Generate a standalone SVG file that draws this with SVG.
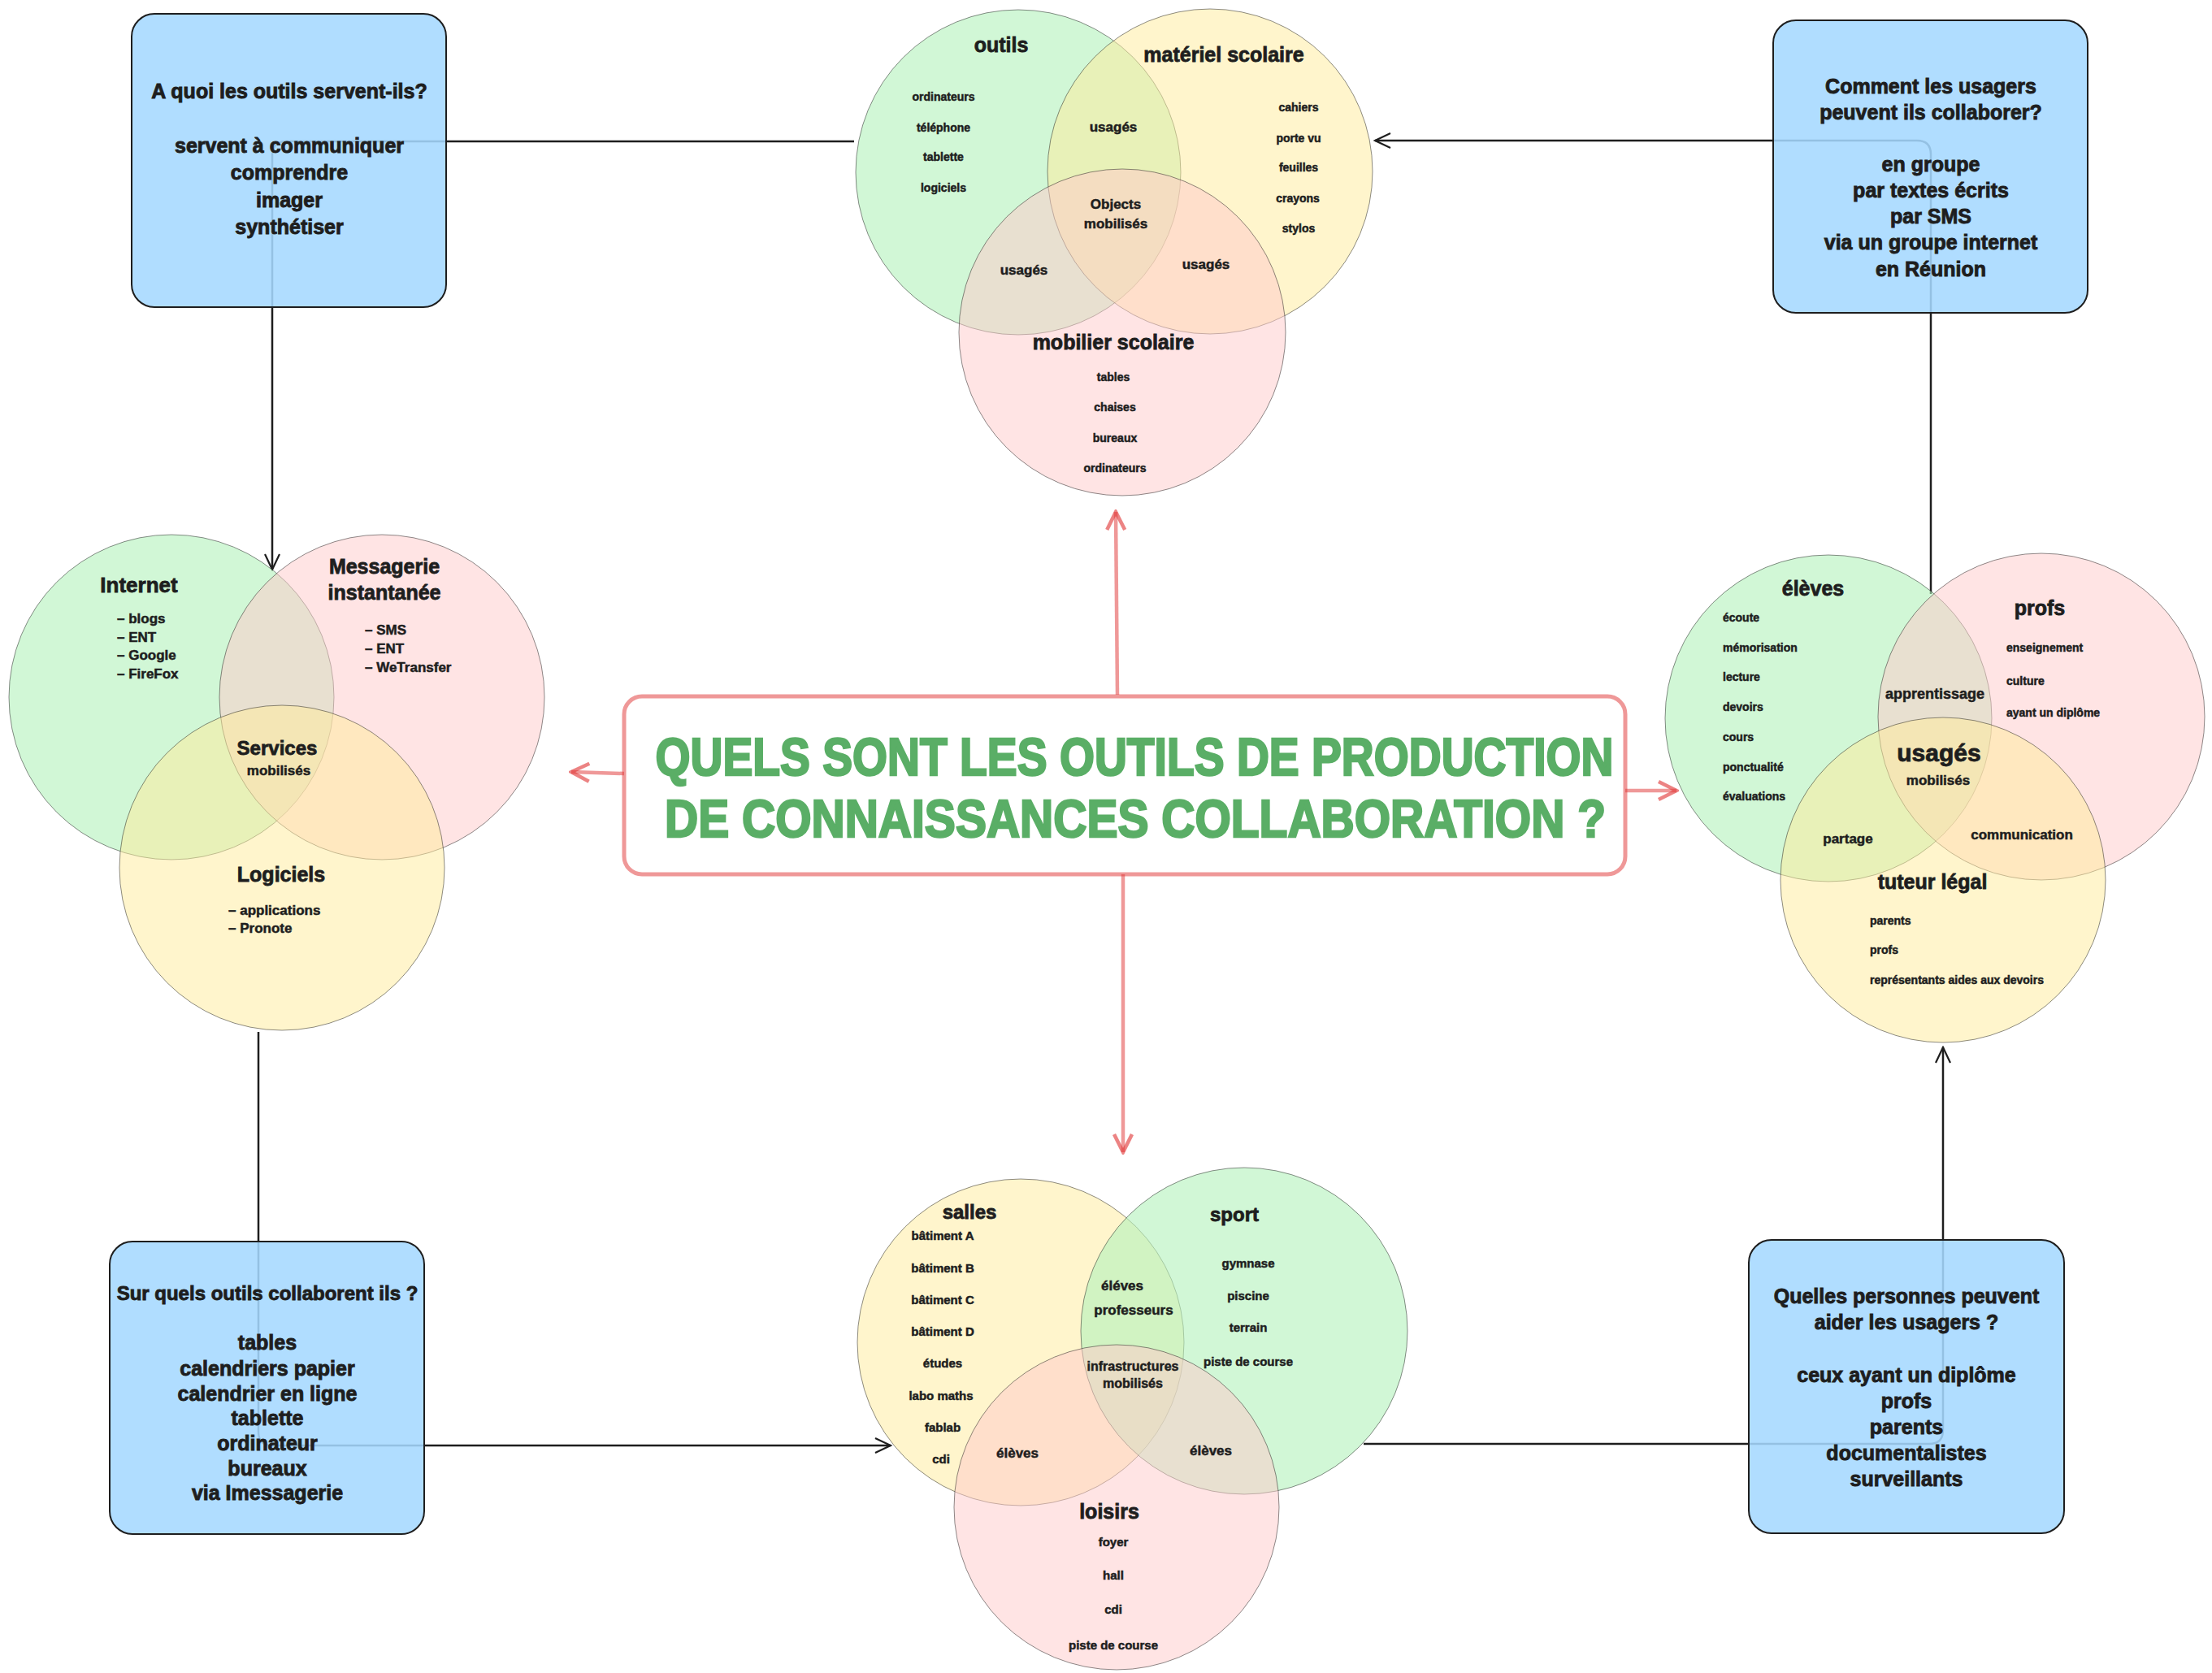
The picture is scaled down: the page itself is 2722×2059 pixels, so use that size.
<svg xmlns="http://www.w3.org/2000/svg" width="2722" height="2059" viewBox="0 0 2722 2059">
<style>
text{font-family:"Liberation Sans",Arial,sans-serif;font-weight:bold;fill:#1e1e1e;stroke:#1e1e1e;stroke-width:.5}
.c{text-anchor:middle}
.s{text-anchor:start}
.t{font-size:25px;stroke-width:.8}
.i{font-size:14px}
.j{font-size:15px}
.m{font-size:17px}
.bx{font-size:25px;text-anchor:middle;stroke-width:.9}
.g{fill:#b2f2bb;fill-opacity:.6;stroke:#1e1e1e;stroke-opacity:.5;stroke-width:1}
.y{fill:#ffec99;fill-opacity:.5;stroke:#1e1e1e;stroke-opacity:.5;stroke-width:1}
.p{fill:#ffc9c9;fill-opacity:.5;stroke:#1e1e1e;stroke-opacity:.5;stroke-width:1}
.box{fill:#a5d8ff;fill-opacity:.88;stroke:#1e1e1e;stroke-width:2}
.k{fill:none;stroke:#1e1e1e;stroke-width:2.5}
.r{fill:none;stroke:#e03131;stroke-opacity:.5;stroke-width:4.5}
.title{font-size:64px;fill:#5aae66;stroke:#5aae66;stroke-width:2.5;text-anchor:middle}
</style>
<defs>
<marker id="ak" viewBox="-22 -12 24 24" refX="0" refY="0" markerWidth="24" markerHeight="24" markerUnits="userSpaceOnUse" orient="auto">
<path d="M-19,-9 L0,0 L-19,9" fill="none" stroke="#1e1e1e" stroke-width="2.2"/>
</marker>
<marker id="ar" viewBox="-26 -15 29 30" refX="0" refY="0" markerWidth="29" markerHeight="30" markerUnits="userSpaceOnUse" orient="auto">
<path d="M-22,-11 L0,0 L-22,11" fill="none" stroke="#e03131" stroke-opacity=".6" stroke-width="4.5"/>
</marker>
</defs>

<g id="connectors">
<path class="k" d="M1051,174 L352,174 Q335,174 335,191 L335,701" marker-end="url(#ak)"/>
<path class="k" d="M2376,731 L2376,190 Q2376,173 2359,173 L1692,173" marker-end="url(#ak)"/>
<path class="k" d="M318,1270 L318,1762 Q318,1779 335,1779 L1096,1779" marker-end="url(#ak)"/>
<path class="k" d="M1678,1777 L2374,1777 Q2391,1777 2391,1760 L2391,1289" marker-end="url(#ak)"/>
<path class="r" d="M1375,855 L1373,630" marker-end="url(#ar)"/>
<path class="r" d="M1382,1076 L1382,1418" marker-end="url(#ar)"/>
<path class="r" d="M768,952 L703,950" marker-end="url(#ar)"/>
<path class="r" d="M2000,973 L2063,973" marker-end="url(#ar)"/>
</g>

<g id="venn-top">
<circle class="g" cx="1253" cy="212" r="200"/>
<circle class="y" cx="1489" cy="211" r="200"/>
<circle class="p" cx="1381" cy="409" r="201"/>
<text class="c t" x="1232" y="64">outils</text>
<text class="c t" x="1506" y="76">matériel scolaire</text>
<text class="c i" x="1161" y="124">ordinateurs</text>
<text class="c i" x="1161" y="162">téléphone</text>
<text class="c i" x="1161" y="198">tablette</text>
<text class="c i" x="1161" y="236">logiciels</text>
<text class="c m" x="1370" y="162">usagés</text>
<text class="c i" x="1598" y="137">cahiers</text>
<text class="c i" x="1598" y="175">porte vu</text>
<text class="c i" x="1598" y="211">feuilles</text>
<text class="c i" x="1597" y="249">crayons</text>
<text class="c i" x="1598" y="286">stylos</text>
<text class="c m" x="1373" y="257">Objects</text>
<text class="c m" x="1373" y="281">mobilisés</text>
<text class="c m" x="1260" y="338">usagés</text>
<text class="c m" x="1484" y="331">usagés</text>
<text class="c t" x="1370" y="430">mobilier scolaire</text>
<text class="c i" x="1370" y="469">tables</text>
<text class="c i" x="1372" y="506">chaises</text>
<text class="c i" x="1372" y="544">bureaux</text>
<text class="c i" x="1372" y="581">ordinateurs</text>
</g>

<g id="venn-left">
<circle class="g" cx="211" cy="858" r="200"/>
<circle class="p" cx="470" cy="858" r="200"/>
<circle class="y" cx="347" cy="1068" r="200"/>
<text class="c t" x="171" y="729" style="font-size:26px">Internet</text>
<text class="s m" x="144" y="767">– blogs</text>
<text class="s m" x="144" y="790">– ENT</text>
<text class="s m" x="144" y="812">– Google</text>
<text class="s m" x="144" y="835">– FireFox</text>
<text class="c t" x="473" y="706">Messagerie</text>
<text class="c t" x="473" y="738">instantanée</text>
<text class="s m" x="449" y="781">– SMS</text>
<text class="s m" x="449" y="804">– ENT</text>
<text class="s m" x="449" y="827">– WeTransfer</text>
<text class="c t" x="341" y="929" style="font-size:24px">Services</text>
<text class="c m" x="343" y="954">mobilisés</text>
<text class="c t" x="346" y="1085">Logiciels</text>
<text class="s m" x="281" y="1126">– applications</text>
<text class="s m" x="281" y="1148">– Pronote</text>
</g>

<g id="venn-right">
<circle class="g" cx="2250" cy="884" r="201"/>
<circle class="p" cx="2512" cy="882" r="201"/>
<circle class="y" cx="2391" cy="1083" r="200"/>
<text class="c t" x="2231" y="733">élèves</text>
<text class="s i" x="2120" y="765">écoute</text>
<text class="s i" x="2120" y="802">mémorisation</text>
<text class="s i" x="2120" y="838">lecture</text>
<text class="s i" x="2120" y="875">devoirs</text>
<text class="s i" x="2120" y="912">cours</text>
<text class="s i" x="2120" y="949">ponctualité</text>
<text class="s i" x="2120" y="985">évaluations</text>
<text class="c t" x="2510" y="757">profs</text>
<text class="s i" x="2469" y="802">enseignement</text>
<text class="s i" x="2469" y="843">culture</text>
<text class="s i" x="2469" y="882">ayant un diplôme</text>
<text class="c" x="2381" y="860" style="font-size:18px">apprentissage</text>
<text class="c t" x="2386" y="937" style="font-size:30px">usagés</text>
<text class="c m" x="2385" y="966">mobilisés</text>
<text class="c m" x="2274" y="1038">partage</text>
<text class="c m" x="2488" y="1033">communication</text>
<text class="c t" x="2378" y="1094">tuteur légal</text>
<text class="s i" x="2301" y="1138">parents</text>
<text class="s i" x="2301" y="1174">profs</text>
<text class="s i" x="2301" y="1211">représentants aides aux devoirs</text>
</g>

<g id="venn-bottom">
<circle class="y" cx="1256" cy="1652" r="201"/>
<circle class="g" cx="1531" cy="1638" r="201"/>
<circle class="p" cx="1374" cy="1855" r="200"/>
<text class="c t" x="1193" y="1500" style="font-size:24px">salles</text>
<text class="c j" x="1160" y="1526">bâtiment A</text>
<text class="c j" x="1160" y="1566">bâtiment B</text>
<text class="c j" x="1160" y="1605">bâtiment C</text>
<text class="c j" x="1160" y="1644">bâtiment D</text>
<text class="c j" x="1160" y="1683">études</text>
<text class="c j" x="1158" y="1723">labo maths</text>
<text class="c j" x="1160" y="1762">fablab</text>
<text class="c j" x="1158" y="1801">cdi</text>
<text class="c t" x="1519" y="1503" style="font-size:24px">sport</text>
<text class="c j" x="1536" y="1560">gymnase</text>
<text class="c j" x="1536" y="1600">piscine</text>
<text class="c j" x="1536" y="1639">terrain</text>
<text class="c j" x="1536" y="1681">piste de course</text>
<text class="c m" x="1381" y="1588">éléves</text>
<text class="c m" x="1395" y="1618">professeurs</text>
<text class="c" x="1394" y="1687" style="font-size:16px">infrastructures</text>
<text class="c" x="1394" y="1708" style="font-size:16px">mobilisés</text>
<text class="c m" x="1252" y="1794">élèves</text>
<text class="c m" x="1490" y="1791">élèves</text>
<text class="c t" x="1365" y="1869">loisirs</text>
<text class="c j" x="1370" y="1903">foyer</text>
<text class="c j" x="1370" y="1944">hall</text>
<text class="c j" x="1370" y="1986">cdi</text>
<text class="c j" x="1370" y="2030">piste de course</text>
</g>

<g id="box-outils-servent">
<rect class="box" x="162" y="17" width="387" height="361" rx="28"/>
<text class="bx" x="356" y="121">A quoi les outils servent-ils?</text>
<text class="bx" x="356" y="188">servent à communiquer</text>
<text class="bx" x="356" y="221">comprendre</text>
<text class="bx" x="356" y="255">imager</text>
<text class="bx" x="356" y="288">synthétiser</text>
</g>

<g id="box-collaborer">
<rect class="box" x="2182" y="25" width="387" height="360" rx="28"/>
<text class="bx" x="2376" y="115">Comment les usagers</text>
<text class="bx" x="2376" y="147">peuvent ils collaborer?</text>
<text class="bx" x="2376" y="211">en groupe</text>
<text class="bx" x="2376" y="243">par textes écrits</text>
<text class="bx" x="2376" y="275">par SMS</text>
<text class="bx" x="2376" y="307">via un groupe internet</text>
<text class="bx" x="2376" y="340">en Réunion</text>
</g>

<g id="box-outils-collaborent">
<rect class="box" x="135" y="1528" width="387" height="360" rx="28"/>
<text class="bx" x="329" y="1600" style="font-size:24px">Sur quels outils collaborent ils ?</text>
<text class="bx" x="329" y="1661">tables</text>
<text class="bx" x="329" y="1693">calendriers papier</text>
<text class="bx" x="329" y="1724">calendrier en ligne</text>
<text class="bx" x="329" y="1754">tablette</text>
<text class="bx" x="329" y="1785">ordinateur</text>
<text class="bx" x="329" y="1816">bureaux</text>
<text class="bx" x="329" y="1846">via Imessagerie</text>
</g>

<g id="box-personnes">
<rect class="box" x="2152" y="1526" width="388" height="361" rx="28"/>
<text class="bx" x="2346" y="1604">Quelles personnes peuvent</text>
<text class="bx" x="2346" y="1636">aider les usagers ?</text>
<text class="bx" x="2346" y="1701">ceux ayant un diplôme</text>
<text class="bx" x="2346" y="1733">profs</text>
<text class="bx" x="2346" y="1765">parents</text>
<text class="bx" x="2346" y="1797">documentalistes</text>
<text class="bx" x="2346" y="1829">surveillants</text>
</g>

<g id="title">
<rect x="768" y="857" width="1232" height="219" rx="22" fill="#ffffff" stroke="#e03131" stroke-opacity=".5" stroke-width="5"/>
<text class="title" x="1396" y="954" textLength="1179" lengthAdjust="spacingAndGlyphs">QUELS SONT LES OUTILS DE PRODUCTION</text>
<text class="title" x="1397" y="1030" textLength="1158" lengthAdjust="spacingAndGlyphs">DE CONNAISSANCES COLLABORATION ?</text>
</g>
</svg>
